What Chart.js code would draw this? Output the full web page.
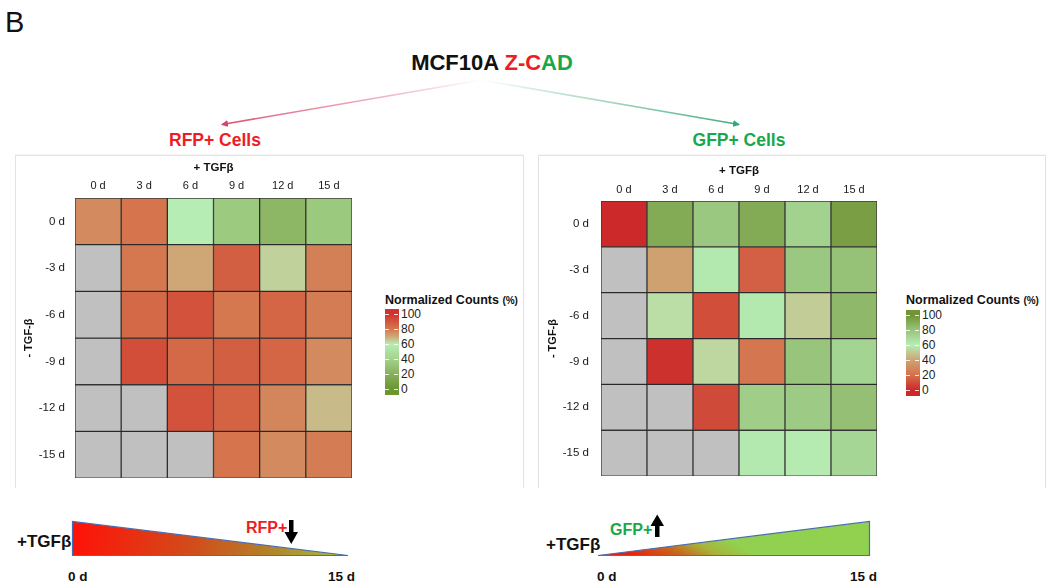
<!DOCTYPE html>
<html><head><meta charset="utf-8">
<script src="https://cdn.jsdelivr.net/npm/chart.js@4.4.1/dist/chart.umd.min.js"></script>
<style>
html,body{margin:0;padding:0;background:#fff}
body{width:1050px;height:588px;position:relative;overflow:hidden;font-family:'Liberation Sans',Arial,Helvetica,sans-serif;color:#111}
.abs{position:absolute;white-space:nowrap}
.panel{position:absolute;border:1px solid #e3e3e3;border-bottom:none;box-shadow:0 -1px 1px rgba(0,0,0,0.03)}
canvas{position:absolute}
.cbar{position:absolute}
.dash{position:absolute;height:1px;background:rgba(255,255,255,0.85);width:4px}
</style></head>
<body>
<script>
// ---------------- DATA ----------------
const colLabels = ['0 d', '3 d', '6 d', '9 d', '12 d', '15 d'];   // + TGFβ
const rowLabels = ['0 d', '-3 d', '-6 d', '-9 d', '-12 d', '-15 d']; // - TGF-β
// Normalized counts (%) ; null = not measured (gray)
const rfpValues = [
  [76, 81, 60, 35, 24, 34],
  [null, 80, 70, 87, 64, 78],
  [null, 84, 91, 80, 85, 79],
  [null, 92, 84, 87, 85, 76],
  [null, null, 91, 86, 77, 67],
  [null, null, null, 81, 76, 79]
];
const gfpValues = [
  [0, 91, 78, 91, 73, 96],
  [null, 39, 62, 15, 78, 81],
  [null, 56, 10, 62, 51, 85],
  [null, 2, 54, 22, 80, 72],
  [null, null, 9, 75, 77, 82],
  [null, null, null, 62, 61, 71]
];
const legendTicks = [100, 80, 60, 40, 20, 0];
const rfpStops = [[0, '#6b9632'], [20, '#87b05a'], [40, '#a3d48c'], [60, '#b6edb4'], [70, '#cfa676'], [80, '#d5774f'], [100, '#d0332b']];
const gfpStops = [[0, '#cc2a2a'], [20, '#d5714c'], [40, '#cfa473'], [60, '#b6edb4'], [80, '#98c47b'], [100, '#729436']];
const missingColor = '#c0c0c0';
</script>

<div class="panel" style="left:15px;top:155px;width:507px;height:332px"></div>
<div class="panel" style="left:538px;top:155px;width:506px;height:332px"></div>

<div class="abs" style="left:5px;top:0px;font-size:29px;line-height:44px">B</div>
<div class="abs" style="left:492px;top:49px;transform:translateX(-50%);font-size:22px;font-weight:bold;line-height:28px">MCF10A <span style="color:#ee1c24">Z-C</span><span style="color:#18a84a">AD</span></div>
<div class="abs" style="left:215px;top:129px;transform:translateX(-50%);font-size:17.5px;font-weight:bold;line-height:22px;color:#ee1c24">RFP+ Cells</div>
<div class="abs" style="left:739px;top:129px;transform:translateX(-50%);font-size:17.5px;font-weight:bold;line-height:22px;color:#18a84a">GFP+ Cells</div>

<svg class="abs" style="left:0;top:0" width="1050" height="588">
  <defs>
    <linearGradient id="gl" gradientUnits="userSpaceOnUse" x1="481" y1="80" x2="221" y2="125">
      <stop offset="0" stop-color="#e8788f" stop-opacity="0"/>
      <stop offset="0.35" stop-color="#e8869a" stop-opacity="0.6"/>
      <stop offset="1" stop-color="#dc4d72"/>
    </linearGradient>
    <linearGradient id="gr" gradientUnits="userSpaceOnUse" x1="481" y1="80" x2="740" y2="125">
      <stop offset="0" stop-color="#7fc4a0" stop-opacity="0"/>
      <stop offset="0.35" stop-color="#8ccaa8" stop-opacity="0.6"/>
      <stop offset="1" stop-color="#3aab7c"/>
    </linearGradient>
    <marker id="ml" markerWidth="8" markerHeight="8" refX="6" refY="4" orient="auto" markerUnits="userSpaceOnUse">
      <path d="M0,0.5 L7,4 L0,7.5 Z" fill="#d6456c"/>
    </marker>
    <marker id="mr" markerWidth="8" markerHeight="8" refX="6" refY="4" orient="auto" markerUnits="userSpaceOnUse">
      <path d="M0,0.5 L7,4 L0,7.5 Z" fill="#35a878"/>
    </marker>
    <linearGradient id="tl" gradientUnits="userSpaceOnUse" x1="80" y1="512" x2="345" y2="565">
      <stop offset="0" stop-color="#ff1208"/>
      <stop offset="0.45" stop-color="#cf4f1c"/>
      <stop offset="0.75" stop-color="#b0892c"/>
      <stop offset="1" stop-color="#a4c43c"/>
    </linearGradient>
    <linearGradient id="tr" gradientUnits="userSpaceOnUse" x1="640" y1="560" x2="668" y2="508">
      <stop offset="0" stop-color="#e8200c"/>
      <stop offset="0.4" stop-color="#c8641e"/>
      <stop offset="0.7" stop-color="#a8b23a"/>
      <stop offset="1" stop-color="#92d050"/>
    </linearGradient>
  </defs>
  <line x1="481" y1="80" x2="222" y2="124.5" stroke="url(#gl)" stroke-width="1.6" marker-end="url(#ml)"/>
  <line x1="481" y1="80" x2="739" y2="124.5" stroke="url(#gr)" stroke-width="1.6" marker-end="url(#mr)"/>
  <polygon points="72.5,521.5 72.5,555.5 348,555.5" fill="url(#tl)" stroke="#4a6cb0" stroke-width="1.2"/>
  <polygon points="598,555.5 869.5,555.5 869.5,521.5" fill="url(#tr)" stroke="#4a6cb0" stroke-width="1.2"/>
</svg>

<div class="abs" style="left:17px;top:531px;font-size:17px;font-weight:bold;line-height:22px">+TGFβ</div>
<div class="abs" style="left:546px;top:534px;font-size:17px;font-weight:bold;line-height:22px">+TGFβ</div>
<div class="abs" style="left:246px;top:518px;font-size:16px;font-weight:bold;line-height:20px;color:#ee1c24">RFP+</div>
<div class="abs" style="left:610px;top:520px;font-size:16px;font-weight:bold;line-height:20px;color:#18a84a">GFP+</div>
<div class="abs" style="left:68px;top:569px;font-size:13.5px;font-weight:bold;line-height:16px">0 d</div>
<div class="abs" style="left:328px;top:569px;font-size:13.5px;font-weight:bold;line-height:16px">15 d</div>
<div class="abs" style="left:597px;top:569px;font-size:13.5px;font-weight:bold;line-height:16px">0 d</div>
<div class="abs" style="left:850px;top:569px;font-size:13.5px;font-weight:bold;line-height:16px">15 d</div>

<svg class="abs" style="left:0;top:0" width="1050" height="588">
  <polygon points="289,520 293.5,520 293.5,532 298,532 291.25,544 284.5,532 289,532" fill="#000"/>
  <polygon points="655,537 659.5,537 659.5,526 664,526 657.25,514.5 650.5,526 655,526" fill="#000"/>
</svg>

<canvas id="cL" width="380" height="345" style="left:0px;top:150px"></canvas>
<canvas id="cR" width="380" height="345" style="left:520px;top:150px"></canvas>

<div id="legL"></div>
<div id="legR"></div>

<script>
function hexToRgb(h) { const n = parseInt(h.slice(1), 16); return [(n >> 16) & 255, (n >> 8) & 255, n & 255]; }
function colorFor(v, stops) {
  if (v <= stops[0][0]) return stops[0][1];
  for (let i = 1; i < stops.length; i++) {
    if (v <= stops[i][0]) {
      const [v0, c0] = stops[i - 1], [v1, c1] = stops[i];
      const t = (v - v0) / (v1 - v0);
      const a = hexToRgb(c0), b = hexToRgb(c1);
      return 'rgb(' + a.map((x, k) => Math.round(x + (b[k] - x) * t)).join(',') + ')';
    }
  }
  return stops[stops.length - 1][1];
}

Chart.defaults.font.family = "'Liberation Sans', Arial, Helvetica, sans-serif";
Chart.defaults.color = '#1a1a1a';

function heatmap(id, values, stops, L) {
  return new Chart(document.getElementById(id), {
    type: 'bar',
    data: {
      labels: colLabels,
      datasets: rowLabels.map((r, i) => ({
        label: r,
        data: colLabels.map(() => 1),
        backgroundColor: values[i].map(v => v === null ? missingColor : colorFor(v, stops)),
        borderColor: 'rgba(25,25,25,0.85)',
        borderWidth: 1,
        borderSkipped: false,
        barPercentage: 1,
        categoryPercentage: 1
      }))
    },
    options: {
      responsive: false, animation: false, devicePixelRatio: 1,
      layout: { padding: { left: 0, top: 0, right: L.right, bottom: L.bottom } },
      plugins: { legend: { display: false }, tooltip: { enabled: false } },
      scales: {
        x: {
          type: 'category', position: 'top', stacked: true,
          grid: { display: false, drawTicks: false }, border: { display: false },
          ticks: { font: { size: 11 }, color: '#1a1a1a', padding: L.xTickPad, maxRotation: 0 },
          title: { display: true, text: '+ TGFβ', font: { size: 11.5, weight: 'bold' }, color: '#111', padding: { top: L.xTitlePad, bottom: 0 } },
          afterFit: s => { s.height = L.top; }
        },
        y: {
          type: 'linear', min: 0, max: 6, reverse: true, stacked: true,
          grid: { display: false, drawTicks: false }, border: { display: false },
          afterBuildTicks: s => { s.ticks = rowLabels.map((_, i) => ({ value: i + 0.5 })); },
          ticks: { autoSkip: false, font: { size: 11.5 }, color: '#1a1a1a', padding: L.yTickPad, callback: v => rowLabels[Math.floor(v)] },
          title: { display: true, text: '- TGF-β', font: { size: 11, weight: 'bold' }, color: '#111', padding: { top: L.yTitlePad, bottom: 0 } },
          afterFit: s => { s.width = L.left; }
        }
      }
    }
  });
}

heatmap('cL', rfpValues, rfpStops, { left: 75, top: 48, right: 28, bottom: 8, xTickPad: 5, xTitlePad: 11, yTickPad: 10, yTitlePad: 22 });
heatmap('cR', gfpValues, gfpStops, { left: 81, top: 51, right: 23, bottom: 8, xTickPad: 4, xTitlePad: 14, yTickPad: 12, yTitlePad: 26 });

function legend(id, stops, x, titleY, barTop, labelX) {
  const el = document.getElementById(id);
  const barH = 86, zeroY = 80, ppu = 0.75;          // bar geometry (px)
  const vTop = zeroY / ppu, vBot = -(barH - zeroY) / ppu;
  const pct = v => ((v - vBot) / (vTop - vBot) * 100).toFixed(2) + '%';
  const css = stops.map(([v, c]) => c + ' ' + pct(v)).join(',');
  let html = '<div class="abs" style="left:' + x + 'px;top:' + (titleY - 9) + 'px;font-size:12.5px;font-weight:bold;line-height:18px">Normalized Counts <span style="font-size:10px">(%)</span></div>';
  html += '<div class="cbar" style="left:' + x + 'px;top:' + barTop + 'px;width:14px;height:' + barH + 'px;background:linear-gradient(to top,' + css + ')">';
  legendTicks.forEach(t => {
    const y = zeroY - t * ppu;
    html += '<div class="dash" style="left:0;top:' + y + 'px"></div><div class="dash" style="left:9px;top:' + y + 'px"></div>';
  });
  html += '</div>';
  legendTicks.forEach(t => {
    const y = barTop + zeroY - t * ppu;
    html += '<div class="abs" style="left:' + labelX + 'px;top:' + (y - 8) + 'px;font-size:12px;line-height:16px;color:#222">' + t + '</div>';
  });
  el.innerHTML = html;
}
legend('legL', rfpStops, 385, 300, 309, 401);
legend('legR', gfpStops, 906, 300, 310, 922);
</script>
</body></html>
